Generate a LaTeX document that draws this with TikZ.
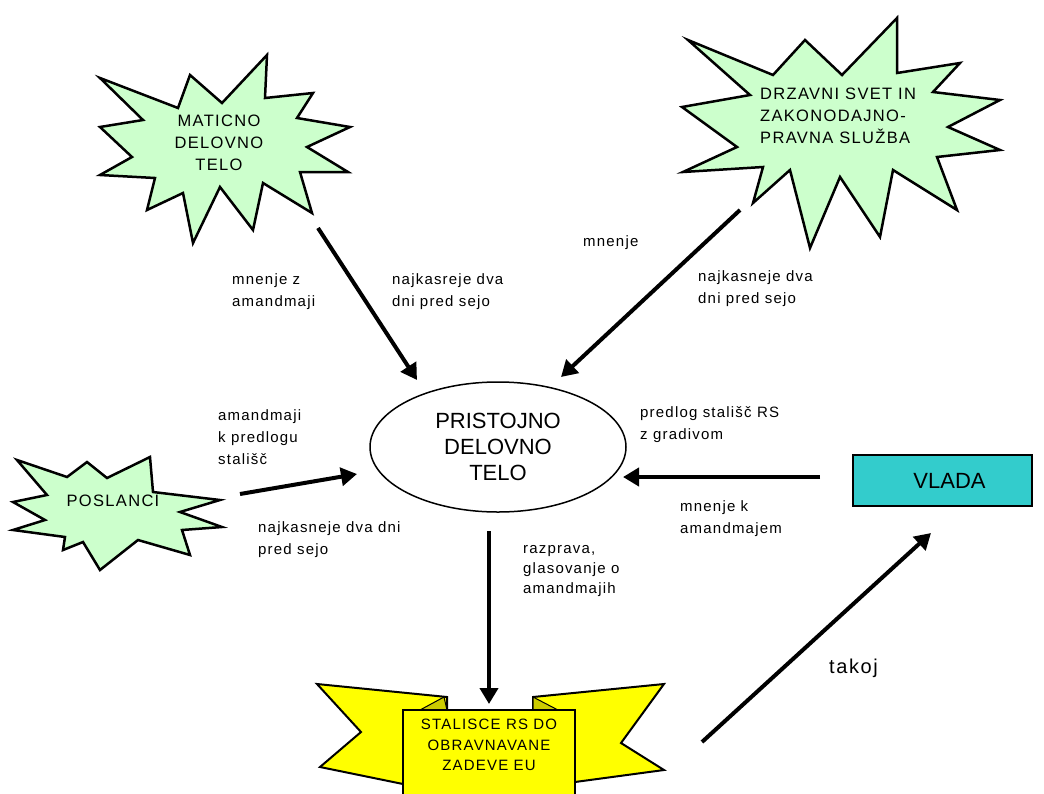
\documentclass[tikz,border=0pt]{standalone}
\usepackage{fontspec}
\setmainfont{Liberation Sans}
\newfontfamily\spacedfont[LetterSpace=8]{Liberation Sans}
\usetikzlibrary{arrows.meta,shapes.geometric}
\definecolor{stargreen}{HTML}{CCFFCC}
\definecolor{banyellow}{HTML}{FFFF00}
\definecolor{folddark}{HTML}{CCCC00}
\definecolor{vladateal}{HTML}{33CCCC}
\begin{document}
\begin{tikzpicture}[x=1pt,y=-1pt,
  starshape/.style={draw=black, line width=2.5pt, fill=stargreen, line join=miter},
  startext/.style={font=\spacedfont\fontsize{16.5}{22}\selectfont, align=center, inner sep=0pt},
  lbl/.style={font=\spacedfont\fontsize{15}{22}\selectfont, align=left, anchor=west, inner sep=0pt},
  flow/.style={line width=4pt, -{Triangle[length=16pt,width=18pt]}},
  bannerpart/.style={draw=black, line width=2pt, fill=banyellow, line join=miter},
  foldpart/.style={draw=black, line width=1pt, fill=folddark},
]
\useasboundingbox (0,0) rectangle (1044,793);
\fill[white] (0,0) rectangle (1044,793);

% ---- MATICNO star
\draw[starshape] (267,55) -- (265,98) -- (313,93) -- (297,118) -- (350,127) -- (307,147)
  -- (348,172) -- (300,172) -- (312,213) -- (263,183) -- (253,230) -- (220,187)
  -- (193,243) -- (183,193) -- (147,210) -- (155,178) -- (100,175) -- (132,157)
  -- (100,127) -- (143,120) -- (100,78) -- (178,108) -- (190,75) -- (222,103) -- cycle;
\node[startext] (maticno) at (219,143) {MATICNO\\DELOVNO\\TELO};

% ---- DRZAVNI star
\draw[starshape] (897,18) -- (897,73) -- (960,63) -- (933,92) -- (1000,100) -- (948,127)
  -- (1000,150) -- (937,157) -- (957,210) -- (893,170) -- (880,237) -- (840,177)
  -- (810,248) -- (790,170) -- (753,203) -- (763,167) -- (683,172) -- (737,147)
  -- (682,107) -- (750,95) -- (688,40) -- (773,75) -- (805,40) -- (842,75) -- cycle;
\node[startext, align=left, anchor=west] (drzavni) at (760,116) {DRZAVNI SVET IN\\ZAKONODAJNO-\\PRAVNA SLUŽBA};

% ---- POSLANCI star
\draw[starshape] (150,457) -- (153,492) -- (220,500) -- (180,512) -- (222,527) -- (182,530)
  -- (190,555) -- (138,540) -- (100,570) -- (83,542) -- (63,550) -- (65,537)
  -- (13,530) -- (45,520) -- (13,502) -- (47,495) -- (17,460) -- (67,477)
  -- (87,462) -- (107,478) -- cycle;
\node[startext] (poslanci) at (113,501) {POSLANCI};

% ---- central ellipse
\node[draw=black, line width=1.5pt, ellipse, minimum width=256pt, minimum height=130pt,
  inner sep=0pt, align=center, font=\fontsize{22}{26}\selectfont] (pdt) at (498,447)
  {PRISTOJNO\\DELOVNO\\TELO};

% ---- VLADA
\node[draw=black, line width=1.5pt, fill=vladateal, minimum width=179pt, minimum height=51pt,
  inner sep=0pt, font=\fontsize{22}{26}\selectfont] (vlada) at (942.5,480.5) {\hspace{14pt}VLADA};

% ---- banner
\draw[bannerpart] (317,684) -- (447,697) -- (447,784) -- (403,784) -- (320,767) -- (361,732) -- cycle;
\draw[bannerpart] (533,697) -- (664,684) -- (621,743) -- (664,770) -- (575,782) -- (533,782) -- cycle;
\draw[foldpart] (420,710) -- (444,697) -- (447,710) -- cycle;
\draw[foldpart] (533,697) -- (533,710) -- (558,710) -- cycle;
\fill[banyellow] (403,710) rectangle (575,795);
\draw[black, line width=2pt] (403,795) -- (403,710) -- (575,710) -- (575,795);
\node[startext, font=\spacedfont\fontsize{15}{20.5}\selectfont] (staliske) at (489,745)
  {STALISCE RS DO\\OBRAVNAVANE\\ZADEVE EU};

% ---- connector end points
\coordinate (a1s) at (318,228);
\coordinate (a1e) at (417,380);
\coordinate (a2s) at (740,210);
\coordinate (a2e) at (561,377);
\coordinate (a3s) at (240,494);
\coordinate (a3e) at (357,474);
\coordinate (a4s) at (820,477);
\coordinate (a4e) at (623,477);
\coordinate (a5s) at (489,531);
\coordinate (a5e) at (489,704);
\coordinate (a6s) at (702,742);
\coordinate (a6e) at (931,533);

\draw[flow] (a1s) -- (a1e);
\draw[flow] (a2s) -- (a2e);
\draw[flow] (a3s) -- (a3e);
\draw[flow] (a4s) -- (a4e);
\draw[flow] (a5s) -- (a5e);
\draw[flow] (a6s) -- (a6e);

% ---- labels
\node[lbl] (l1) at (232,292) {mnenje z\\amandmaji};
\node[lbl] (l2) at (392,292) {najkasreje dva\\dni pred sejo};
\node[lbl] (l3) at (583,243) {mnenje};
\node[lbl] (l4) at (698,289) {najkasneje dva\\dni pred sejo};
\node[lbl] (l5) at (218,437) {amandmaji\\k predlogu\\stališč};
\node[lbl] (l6) at (258,540) {najkasneje dva dni\\pred sejo};
\node[lbl] (l7) at (640,425) {predlog stališč RS\\z gradivom};
\node[lbl] (l8) at (680,519) {mnenje k\\amandmajem};
\node[lbl, font=\spacedfont\fontsize{15}{20}\selectfont] (l9) at (523,571) {razprava,\\glasovanje o\\amandmajih};
\node[lbl, font=\spacedfont\fontsize{20}{24}\selectfont] (l10) at (829,668) {takoj};
\end{tikzpicture}
\end{document}
